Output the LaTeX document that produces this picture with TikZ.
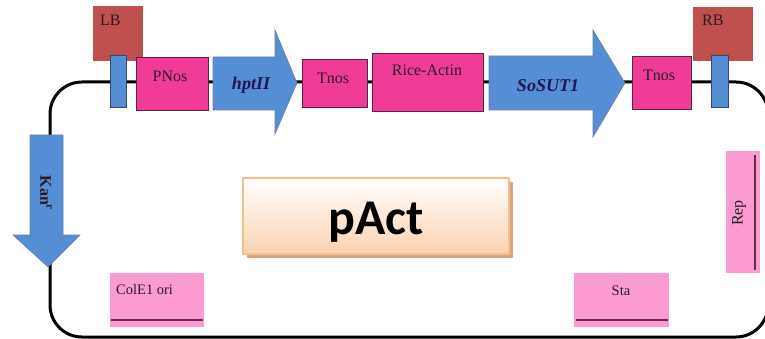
\documentclass[tikz,border=0pt]{standalone}
\usepackage{fontspec}
\setmainfont{Liberation Serif}
\newfontfamily\calfont{Carlito}
\usetikzlibrary{shadings}
\definecolor{hotpink}{HTML}{F03C97}
\definecolor{lightpink}{HTML}{FB9BD2}
\definecolor{geneblue}{HTML}{558ED5}
\definecolor{blueedge}{HTML}{2F4A78}
\definecolor{pinkedge}{HTML}{5A2440}
\definecolor{brick}{HTML}{C0504D}
\definecolor{txt}{HTML}{2A1A26}
\definecolor{peach}{HTML}{FBD2B0}
\definecolor{peachedge}{HTML}{F9BC8C}
\definecolor{shadowc}{HTML}{D4A783}
\definecolor{barline}{HTML}{6A2A4E}
\tikzset{
  pinkbox/.style={fill=hotpink, draw=pinkedge, line width=0.8pt, inner sep=0pt},
  lightbox/.style={fill=lightpink, draw=none, inner sep=0pt},
  bluebar/.style={fill=geneblue, draw=blueedge, line width=0.8pt, inner sep=0pt},
  brickbox/.style={fill=brick, draw=none, inner sep=0pt},
  genearrow/.style={fill=geneblue, draw=blueedge!70, line width=0.6pt},
  lbl/.style={font=\fontsize{16}{16}\selectfont, text=txt, inner sep=0pt},
  smlbl/.style={font=\fontsize{14.5}{14.5}\selectfont, text=txt, inner sep=0pt},
  genelbl/.style={font=\fontsize{18}{18}\selectfont\bfseries\itshape, text=txt!80!blue, inner sep=0pt},
  backbone/.style={line width=3pt, black, rounded corners=32pt},
  thinbar/.style={barline, line width=1.3pt}
}
\begin{document}
\begin{tikzpicture}[x=1pt,y=-1pt]
\useasboundingbox (0,0) rectangle (765,339);
% backbone
\draw[backbone] (50,82) rectangle (768,337);
% LB / RB
\node[brickbox, minimum width=50pt, minimum height=55pt] (lb) at (118,33.5) {};
\node[lbl, anchor=north west] (lbt) at (100,15) {LB};
\node[brickbox, minimum width=60pt, minimum height=54pt] (rb) at (723,34) {};
\node[lbl, anchor=north west] (rbt) at (702,15) {RB};
% blue border bars
\node[bluebar, minimum width=16pt, minimum height=52pt] (lbar) at (118,81) {};
\node[bluebar, minimum width=17pt, minimum height=52pt] (rbar) at (719.5,81) {};
% PNos
\node[pinkbox, minimum width=72pt, minimum height=53pt] (pnos) at (172,83.5) {};
\node[lbl] (pnost) at (170,76) {PNos};
% hptII arrow
\filldraw[genearrow] (213,57) -- (275,57) -- (275,30) -- (297,83) -- (275,134) -- (275,110) -- (213,110) -- cycle;
\node[genelbl] (hpt) at (251,85) {hptII};
% Tnos 1
\node[pinkbox, minimum width=65pt, minimum height=48pt] (tnos1) at (334.5,83) {};
\node[lbl] (tnos1t) at (333,78) {Tnos};
% Rice-Actin
\node[pinkbox, minimum width=111pt, minimum height=58pt] (actin) at (427.5,82) {};
\node[lbl] (actint) at (427,70) {Rice-Actin};
% SoSUT1 arrow
\filldraw[genearrow] (489,56) -- (593,56) -- (593,30) -- (625,83) -- (593,137) -- (593,110) -- (489,110) -- cycle;
\node[genelbl] (sut) at (548,86) {SoSUT1};
% Tnos 2
\node[pinkbox, minimum width=59pt, minimum height=53pt] (tnos2) at (661.5,82.5) {};
\node[lbl] (tnos2t) at (659,75) {Tnos};
% Kan arrow
\filldraw[genearrow] (30,135) -- (63,135) -- (63,235) -- (80,235) -- (48,267) -- (13,235) -- (30,235) -- cycle;
\node[lbl, rotate=-90, font=\fontsize{16}{16}\selectfont\bfseries] (kan) at (46,193) {Kan\textsuperscript{r}};
% ColE1 ori
\node[lightbox, minimum width=94pt, minimum height=54pt] (cole) at (157,300) {};
\node[smlbl, anchor=west] (colet) at (116,290) {ColE1 ori};
\draw[thinbar] (111,320) -- (203,320);
% Sta
\node[lightbox, minimum width=95pt, minimum height=54pt] (sta) at (621.5,300) {};
\node[smlbl] (stat) at (621,291) {Sta};
\draw[thinbar] (576,320) -- (668,320);
% Rep
\node[lightbox, minimum width=34pt, minimum height=122pt] (rep) at (743,212) {};
\node[smlbl, rotate=90, font=\fontsize{16}{16}\selectfont] (rept) at (739,213) {Rep};
\draw[thinbar] (755,155) -- (755,270);
% pAct
\fill[shadowc] (247,182) rectangle (513,258);
\shade[top color=white, bottom color=peach] (243,178) rectangle (509,254);
\draw[peachedge, line width=1.5pt] (243,178) rectangle (509,254);
\node[font=\calfont\bfseries\fontsize{50}{50}\selectfont, text=black, inner sep=0pt] (pact) at (376,222) {pAct};
\end{tikzpicture}
\end{document}
